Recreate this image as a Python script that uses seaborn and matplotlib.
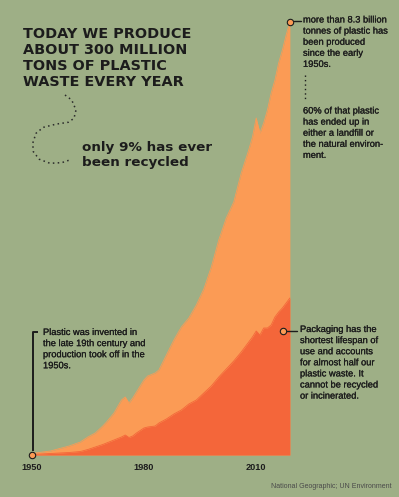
import seaborn as sns
import pandas as pd
import numpy as np
import matplotlib.pyplot as plt
import matplotlib.patheffects as pe

# data (million tonnes, approx)
years = [1950, 1955, 1960, 1963, 1965, 1967, 1969, 1970, 1972, 1974, 1975, 1976,
         1977, 1978, 1980, 1981, 1983, 1984, 1986, 1988, 1990, 1992, 1994, 1996,
         1998, 2000, 2002, 2004, 2006, 2008, 2009, 2010, 2011, 2012, 2013, 2014,
         2015, 2016, 2017, 2018, 2019]
total = [1.5, 4, 9, 13, 18, 22, 29, 33, 42, 55, 58, 52,
         57, 63, 75, 79, 82, 85, 100, 115, 128, 137, 150, 166,
         188, 215, 237, 253, 282, 305, 318, 337, 322, 332, 345, 362,
         375, 392, 405, 420, 433]
packaging = [0.5, 1.5, 2.5, 3.5, 5.5, 8, 10.5, 12, 15, 18, 20, 17.5,
             19, 22, 27, 28, 29, 32, 36, 41, 45, 51, 55, 62,
             69, 78, 86, 94, 103, 113, 118, 124, 120, 127, 127, 130,
             138, 143, 147, 152, 157]
tick_years = [1950, 1980, 2010]

BG = "#9eaf86"
LIGHT = "#fb9b55"
DARK = "#f4663a"
INK = "#1c1c1c"

df = pd.DataFrame({"year": years, "total": total, "packaging": packaging})

sns.set_style("white", {"axes.facecolor": BG, "figure.facecolor": BG})
plt.rcParams["font.family"] = ["Liberation Sans", "DejaVu Sans"]

W, H = 399, 497
fig = plt.figure(figsize=(W / 100, H / 100), dpi=100)
fig.patch.set_facecolor(BG)

# main chart area in pixel geometry
x0, x1 = 31.7, 291.0
y_base, y_top = 455.0, 22.0
ax = fig.add_axes([x0 / W, (H - y_base) / H, (x1 - x0) / W, (y_base - y_top) / H])
ax.set_facecolor(BG)

ax.fill_between(df["year"], 0, df["total"], color=LIGHT, lw=0)
ax.fill_between(df["year"], 0, df["packaging"], color=DARK, lw=0)
sns.lineplot(data=df, x="year", y="total", color=LIGHT, lw=0.6, ax=ax)
sns.lineplot(data=df, x="year", y="packaging", color=DARK, lw=0.6, ax=ax)

ax.set_xlim(years[0], years[-1] + 0.3)
ax.set_ylim(0, total[-1])
sns.despine(ax=ax, left=True, bottom=True)
ax.set_yticks([])
ax.set_xticks(tick_years)
ax.set_xticklabels([str(y) for y in tick_years], fontsize=6.6, fontweight="bold", color=INK)
ax.tick_params(axis="x", length=0, pad=6)
ax.set_xlabel("")
ax.set_ylabel("")

# markers
dot = dict(marker="o", ms=4.6, mfc=LIGHT, mec=INK, mew=0.8, clip_on=False, zorder=5)
ax.plot([years[-1]], [total[-1]], **dot)
ax.plot([years[0]], [0], **dot)
ax.plot([2017.2], [124], **dot)

# overlay in pixel coordinates for annotations
ov = fig.add_axes([0, 0, 1, 1], facecolor="none")
ov.set_xlim(0, W)
ov.set_ylim(H, 0)
ov.axis("off")

# connector lines
ov.plot([294, 301], [20.7, 20.7], color=INK, lw=1.0)
ov.plot([286.5, 297], [330.7, 330.7], color=INK, lw=1.0)
ov.plot([33, 33, 37.5], [451, 331.5, 331.5], color=INK, lw=1.4, solid_capstyle="butt")
ov.plot([305, 305], [75, 101], color=INK, lw=1.0, ls=(0, (1, 2.2)))

# dotted squiggle
sx = [65, 71.7, 76, 74, 68.3, 56.7, 43.3, 36, 32.7, 33.3, 39.3, 50, 61.7, 71.7]
sy = [95, 100, 110, 118.3, 122.3, 124, 127.3, 133.3, 143.3, 151.7, 159.3, 163.3, 162.7, 159.3]
t = np.arange(len(sx))
tt = np.linspace(0, len(sx) - 1, 200)
ov.plot(np.interp(tt, t, sx), np.interp(tt, t, sy), color="#2a2a2a", lw=1.1,
        ls=(0, (1, 2.2)))

# headline texts
ov.text(23, 27.5, "TODAY WE PRODUCE\nABOUT 300 MILLION\nTONS OF PLASTIC\nWASTE EVERY YEAR",
        family="DejaVu Sans", fontweight="bold", fontsize=10.4, color=INK,
        va="top", ha="left", linespacing=1.17)
ov.text(82, 141, "only 9% has ever\nbeen recycled",
        family="DejaVu Sans", fontweight="bold", fontsize=9.7, color=INK,
        va="top", ha="left", linespacing=1.2)

heavy = [pe.withStroke(linewidth=0.15, foreground=INK)]
body = dict(fontsize=6.7, color=INK, va="top", ha="left", linespacing=1.3,
            path_effects=heavy)
ov.text(303, 15.5, "more than 8.3 billion\ntonnes of plastic has\nbeen produced\nsince the early\n1950s.", **body)
ov.text(303, 106.5, "60% of that plastic\nhas ended up in\neither a landfill or\nthe natural environ-\nment.", **body)
ov.text(43, 328, "Plastic was invented in\nthe late 19th century and\nproduction took off in the\n1950s.", **body)
ov.text(300, 325, "Packaging has the\nshortest lifespan of\nuse and accounts\nfor almost half our\nplastic waste. It\ncannot be recycled\nor incinerated.", **body)

ov.text(392, 487, "National Geographic; UN Environment", fontsize=5, color="#4a4a4a",
        ha="right", va="center")

fig.savefig("out.png", dpi=100, facecolor=BG)
